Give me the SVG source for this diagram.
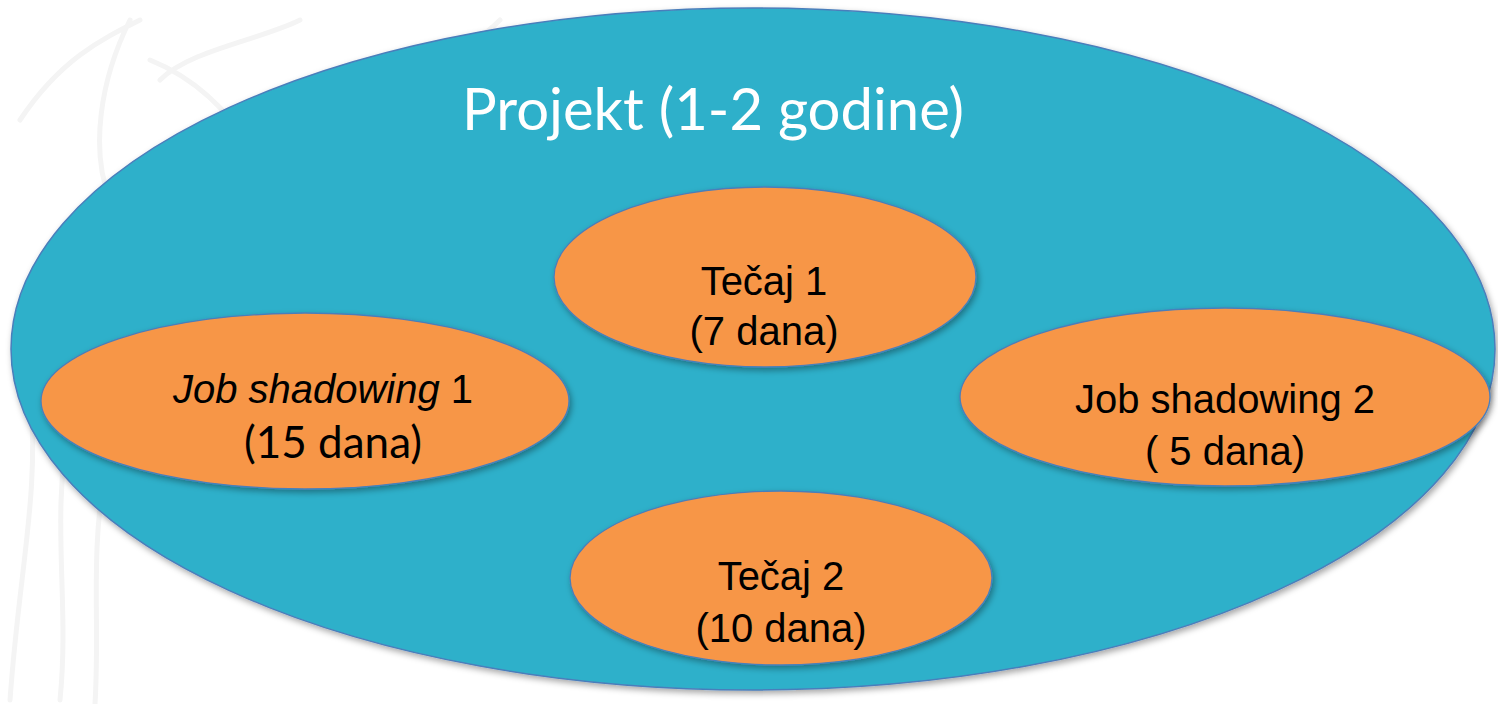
<svg xmlns="http://www.w3.org/2000/svg" width="1498" height="704" viewBox="0 0 1498 704">
<defs>
<filter id="sh" x="-10%" y="-10%" width="120%" height="130%">
<feDropShadow dx="2" dy="3" stdDeviation="3" flood-color="#000" flood-opacity="0.35"/>
</filter>
<style>
.outer{fill:#2fb0ca;stroke:#4a7ebb;stroke-width:1.5}
.node{fill:#f79646;stroke:#4a7ebb;stroke-width:1.3}
.t{font-family:"Liberation Sans",Arial,sans-serif;font-size:40px;fill:#000;text-anchor:middle}
.c{font-family:Lato,"Open Sans",sans-serif;font-size:44px;fill:#000;text-anchor:middle}
.title{font-family:Lato,"Open Sans",sans-serif;font-size:58px;fill:#fff;text-anchor:middle}
.wm{fill:none;stroke:#f4f4f4;stroke-width:5;stroke-linecap:round}
</style>
</defs>
<rect width="1498" height="704" fill="#ffffff"/>
<g id="background">
<path class="wm" d="M10 700 C20 560 40 500 30 380 M60 700 C70 600 50 520 70 420 M95 704 C100 620 90 560 105 470"/>
<path class="wm" d="M20 120 C60 60 100 40 140 20 M110 200 C90 150 100 80 130 20 M160 80 C190 50 260 40 300 20"/>
<path class="wm" d="M150 60 C200 80 240 120 270 180 M360 80 C420 70 470 50 500 20"/>
</g>
<g id="projekt">
<ellipse class="outer" cx="753" cy="349" rx="742" ry="341" filter="url(#sh)"/>
<text class="title" x="713" y="130">Projekt (1-2 godine)</text>
</g>
<g id="tecaj1">
<ellipse class="node" cx="765" cy="277" rx="211" ry="90" filter="url(#sh)"/>
<text class="t" x="764" y="295">Tečaj 1</text>
<text class="t" x="764" y="345">(7 dana)</text>
</g>
<g id="tecaj2">
<ellipse class="node" cx="781" cy="578" rx="211" ry="87" filter="url(#sh)"/>
<text class="t" x="781" y="590">Tečaj 2</text>
<text class="t" x="781" y="642">(10 dana)</text>
</g>
<g id="job1">
<ellipse class="node" cx="305" cy="401" rx="264" ry="88" filter="url(#sh)"/>
<text class="t" x="323" y="403"><tspan font-style="italic">Job shadowing</tspan> 1</text>
<text class="c" x="333" y="458">(15 dana)</text>
</g>
<g id="job2">
<ellipse class="node" cx="1225" cy="397" rx="265" ry="89" filter="url(#sh)"/>
<text class="t" x="1225" y="413">Job shadowing 2</text>
<text class="t" x="1225" y="465">( 5 dana)</text>
</g>
<g id="connectors"/>
</svg>
